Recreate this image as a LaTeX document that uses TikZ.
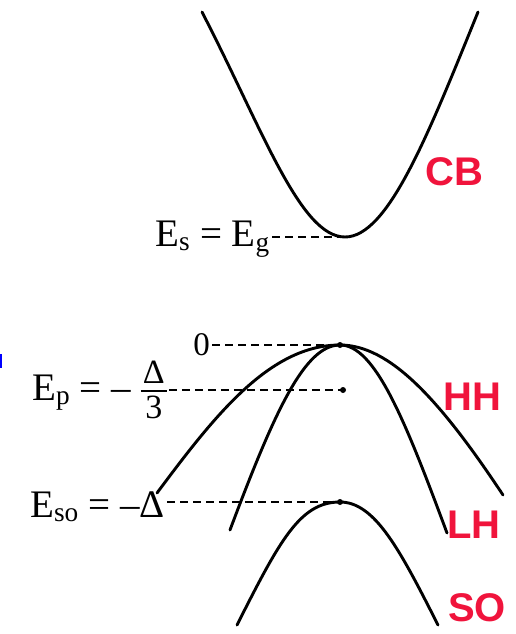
\documentclass[tikz,border=0pt]{standalone}
\usepackage{fontspec}
\setmainfont{Liberation Serif}
\newfontfamily\labfont{Liberation Sans}
\definecolor{bandred}{RGB}{240,20,60}
\newcommand{\lvlfrac}[2]{{\fontsize{34}{36}\selectfont\setlength\arrayrulewidth{1.6pt}%
  \begin{tabular}[c]{@{\hspace{2pt}}c@{\hspace{2pt}}}#1\\[-4pt]\hline\rule{0pt}{27pt}#2\end{tabular}}}

\begin{document}
\begin{tikzpicture}[x=1pt, y=-1pt,
    band/.style={line width=2.9pt, line cap=round},
    level/.style={line width=2.2pt, dash pattern=on 8pt off 5pt},
    lbl/.style={font=\fontsize{39}{41}\selectfont, inner sep=2pt},
    bandlbl/.style={font=\labfont\bfseries\fontsize{40}{42}\selectfont,
                    text=bandred, inner sep=0pt}]

    \useasboundingbox (0,0) rectangle (515,634);

    % band extrema
    \coordinate (cbmin) at (345,237);
    \coordinate (vbtop) at (340,345);
    \coordinate (eptip) at (343,390);
    \coordinate (sotop) at (340,502);

    % conduction band
    \draw[band] (202,12) .. controls (262,128) and (300,237) .. (cbmin)
        .. controls (388,237) and (428,135) .. (478,12);

    % heavy hole
    \draw[band] (157,493) .. controls (215,415) and (270,345) .. (vbtop)
        .. controls (390,345) and (440,400) .. (503,495);

    % light hole
    \draw[band] (230,530) .. controls (275,410) and (305,345) .. (vbtop)
        .. controls (375,345) and (405,420) .. (447,533);

    % split-off
    \draw[band] (237,625) .. controls (280,540) and (300,502) .. (sotop)
        .. controls (375,502) and (400,550) .. (438,625);

    % energy levels
    \node[lbl, anchor=base east] (es) at (272,246)
        {E\textsubscript{s} = E\textsubscript{g}};
    \node[lbl, font=\fontsize{33}{35}\selectfont, anchor=east] (zero) at (212,345) {0};
    \node[lbl, anchor=base west] (ep) at (30,400)
        {E\textsubscript{p} = \textendash\ \lvlfrac{Δ}{3}};
    \node[lbl, anchor=base west] (eso) at (28,517)
        {E\textsubscript{so} = \textendash Δ};

    \draw[level] (es.east |- cbmin) -- (cbmin);
    \draw[level] (zero) -- (vbtop);
    \draw[level] (ep.east |- eptip) -- (eptip);
    \draw[level] (eso.east |- sotop) -- (sotop);

    \fill (vbtop) circle (3pt);
    \fill (eptip) circle (3pt);
    \fill (sotop) circle (3pt);

    % band names
    \node[bandlbl, anchor=base west] (cb) at (425,185) {CB};
    \node[bandlbl, anchor=base west] (hh) at (443,410) {HH};
    \node[bandlbl, anchor=base west] (lh) at (447,538) {LH};
    \node[bandlbl, anchor=base west] (so) at (448,621) {SO};

    % edge mark
    \draw[blue, line width=2pt] (1,354) -- (1,368);

\end{tikzpicture}
\end{document}
